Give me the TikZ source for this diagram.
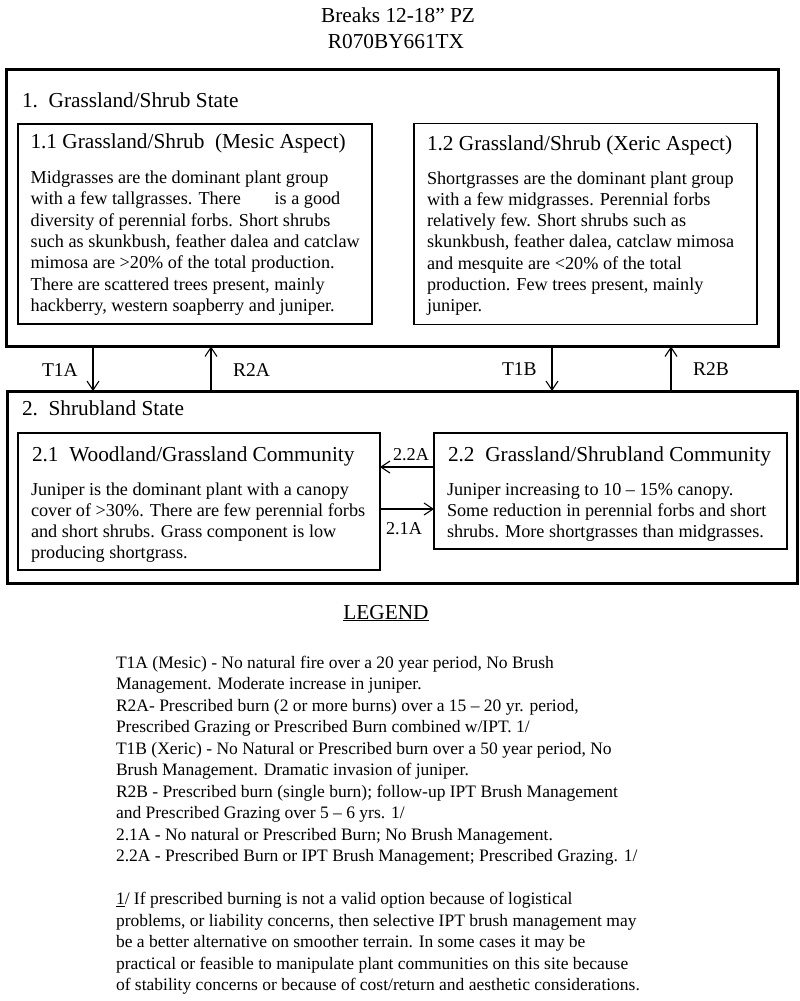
\documentclass[tikz,border=0pt]{standalone}
\usepackage{fontspec}
\setmainfont{Liberation Serif}
\usetikzlibrary{arrows.meta}
\newcommand\fbody{\fontsize{18.2bp}{21.3bp}\selectfont}
\newcommand\fhead{\fontsize{21.3bp}{25bp}\selectfont}
\newcommand\flab{\fontsize{19.5bp}{23bp}\selectfont}
\newcommand\flegend{\fontsize{17.5bp}{21.5bp}\selectfont}
\newcommand\ptext[1]{\begin{tabular}[t]{@{}l@{}}#1\end{tabular}}
\tikzset{
  stbox/.style={draw, line width=3bp, inner sep=0pt, outer sep=0pt, anchor=north west},
  combox/.style={draw, line width=1.5bp, inner sep=0pt, outer sep=0pt, anchor=north west},
  txt/.style={anchor=base west, inner sep=0pt, outer sep=0pt},
  ctxt/.style={anchor=base, inner sep=0pt, outer sep=0pt},
  arr/.style={line width=1.1bp, -{Straight Barb[length=9bp,width=12bp,line width=1.1bp]}},
}
\begin{document}
\begin{tikzpicture}[x=1bp,y=-1bp]
\fill[white] (0,0) rectangle (800,1001);
\useasboundingbox (0,0) rectangle (800,1001);

% title
\node[ctxt, font=\fhead] (title1) at (398,22) {Breaks 12-18” PZ};
\node[ctxt, font=\fhead] (title2) at (396,48) {R070BY661TX};

% state 1
\node[stbox, minimum width=772bp, minimum height=277bp] (s1) at (6,69.5) {};
\node[combox, minimum width=354bp, minimum height=200bp] (c11) at (18,124) {};
\node[combox, minimum width=343bp, minimum height=201bp] (c12) at (414,123.5) {};
\node[txt, font=\fhead] (h1) at (22,107) {1.\ \ Grassland/Shrub State};
\node[txt, font=\fhead] (h11) at (30.5,148.5) {1.1 Grassland/Shrub\ \ (Mesic Aspect)};
\node[txt, font=\fhead] (h12) at (427,150) {1.2 Grassland/Shrub (Xeric Aspect)};
\node[txt, font=\fbody] (t11) at (30.7,183.5) {\ptext{%
Midgrasses are the dominant plant group\\
with a few tallgrasses. There\hspace{1.6em} is a good\\
diversity of perennial forbs. Short shrubs\\
such as skunkbush, feather dalea and catclaw\\
mimosa are >20\% of the total production.\\
There are scattered trees present, mainly\\
hackberry, western soapberry and juniper.}};
\node[txt, font=\fbody] (t12) at (427,184) {\ptext{%
Shortgrasses are the dominant plant group\\
with a few midgrasses. Perennial forbs\\
relatively few. Short shrubs such as\\
skunkbush, feather dalea, catclaw mimosa\\
and mesquite are <20\% of the total\\
production. Few trees present, mainly\\
juniper.}};

% state 2
\node[stbox, minimum width=790bp, minimum height=192bp] (s2) at (7,391) {};
\node[stbox, line width=2.7bp, minimum width=362bp, minimum height=137bp] (c21) at (18,433) {};
\node[stbox, line width=2.7bp, minimum width=353bp, minimum height=116bp] (c22) at (434,433) {};
\node[txt, font=\fhead] (h2) at (22,415) {2.\ \ Shrubland State};
\node[txt, font=\fhead] (h21) at (32,461) {2.1\ \ Woodland/Grassland Community};
\node[txt, font=\fhead] (h22) at (448,461) {2.2\ \ Grassland/Shrubland Community};
\node[txt, font=\fbody] (t21) at (31,495) {\ptext{%
Juniper is the dominant plant with a canopy\\
cover of >30\%. There are few perennial forbs\\
and short shrubs. Grass component is low\\
producing shortgrass.}};
\node[txt, font=\fbody] (t22) at (447,495) {\ptext{%
Juniper increasing to 10 – 15\% canopy.\\
Some reduction in perennial forbs and short\\
shrubs. More shortgrasses than midgrasses.}};

% transitions between states
\coordinate (xT1A) at (93,0);
\coordinate (xR2A) at (211,0);
\coordinate (xT1B) at (552,0);
\coordinate (xR2B) at (671,0);
\draw[arr] (xT1A |- s1.south) -- (xT1A |- s2.north);
\draw[arr] (xR2A |- s2.north) -- (xR2A |- s1.south);
\draw[arr] (xT1B |- s1.south) -- (xT1B |- s2.north);
\draw[arr] (xR2B |- s2.north) -- (xR2B |- s1.south);
\node[txt, font=\flab] (lT1A) at (42,376) {T1A};
\node[txt, font=\flab] (lR2A) at (233,376) {R2A};
\node[txt, font=\flab] (lT1B) at (502,375) {T1B};
\node[txt, font=\flab] (lR2B) at (693,375) {R2B};

% transitions between communities
\coordinate (y22A) at (0,467);
\coordinate (y21A) at (0,509);
\draw[arr] (y22A -| c22.west) -- (y22A -| c21.east);
\draw[arr] (y21A -| c21.east) -- (y21A -| c22.west);
\node[txt, font=\fbody] (l22A) at (393,460) {2.2A};
\node[txt, font=\fbody] (l21A) at (386,534) {2.1A};

% legend
\node[ctxt, font=\fhead] (leg) at (386,619) {\underline{LEGEND}};
\node[txt, font=\flegend] (lg1) at (116,668) {\ptext{%
T1A (Mesic) - No natural fire over a 20 year period, No Brush\\
Management. Moderate increase in juniper.\\
R2A- Prescribed burn (2 or more burns) over a 15 – 20 yr. period,\\
Prescribed Grazing or Prescribed Burn combined w/IPT. 1/\\
T1B (Xeric) - No Natural or Prescribed burn over a 50 year period, No\\
Brush Management. Dramatic invasion of juniper.\\
R2B - Prescribed burn (single burn); follow-up IPT Brush Management\\
and Prescribed Grazing over 5 – 6 yrs. 1/\\
2.1A - No natural or Prescribed Burn; No Brush Management.\\
2.2A - Prescribed Burn or IPT Brush Management; Prescribed Grazing. 1/}};
\node[txt, font=\flegend] (lg2) at (116,904.5) {\ptext{%
\underline{1}/ If prescribed burning is not a valid option because of logistical\\
problems, or liability concerns, then selective IPT brush management may\\
be a better alternative on smoother terrain. In some cases it may be\\
practical or feasible to manipulate plant communities on this site because\\
of stability concerns or because of cost/return and aesthetic considerations.}};
\end{tikzpicture}
\end{document}
